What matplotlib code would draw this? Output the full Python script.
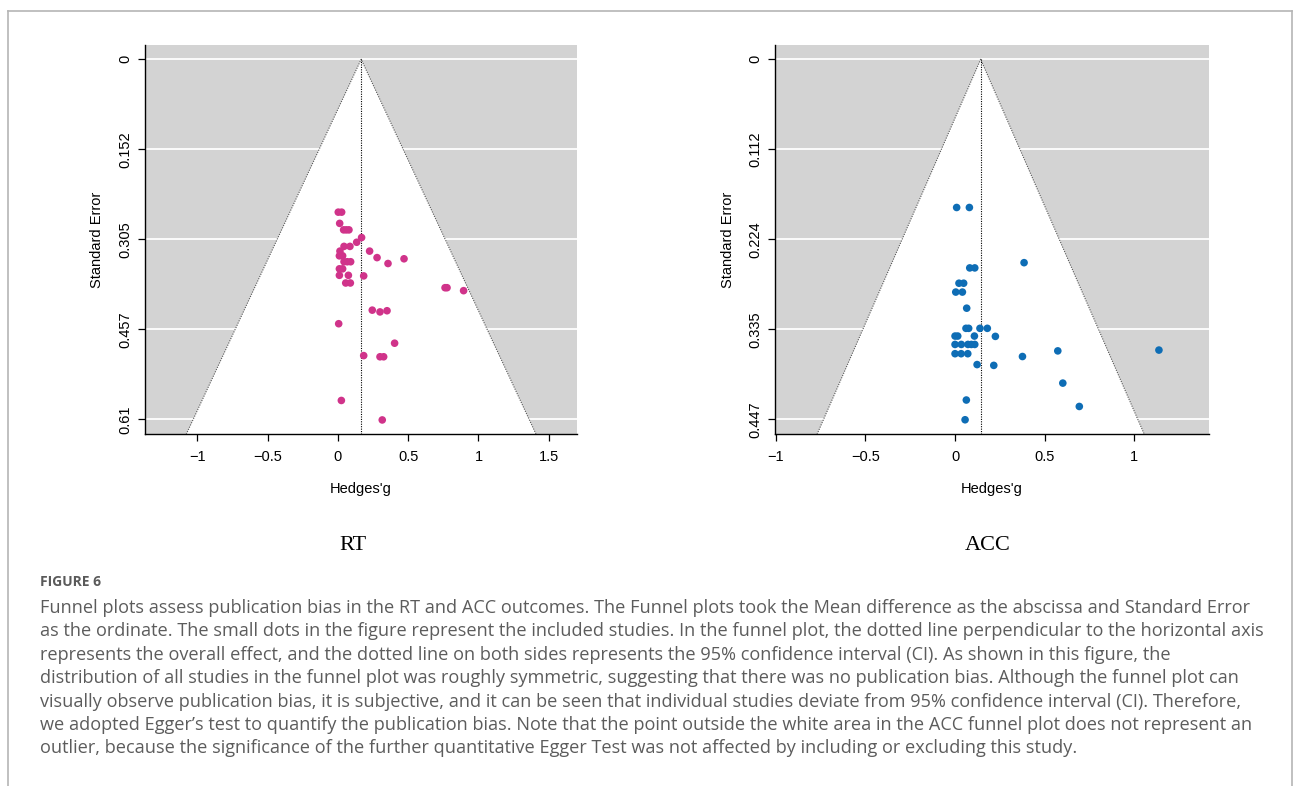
import matplotlib
matplotlib.use("Agg")
import matplotlib.pyplot as plt
from matplotlib.patches import Polygon
import numpy as np

# ---------------- data ----------------
rt_g = [0.002, 0.026, 0.012, 0.040, 0.059, 0.078, 0.168, 0.133, 0.043, 0.085,
        0.014, 0.225, 0.010, 0.033, 0.278, 0.470, 0.043, 0.066, 0.090, 0.356,
        0.010, 0.033, 0.010, 0.074, 0.183, 0.055, 0.088, 0.762, 0.776, 0.894,
        0.244, 0.299, 0.349, 0.005, 0.403, 0.183, 0.299, 0.325, 0.024, 0.315]
rt_se = [0.259, 0.259, 0.278, 0.289, 0.289, 0.289, 0.302, 0.310, 0.317, 0.317,
         0.325, 0.325, 0.333, 0.333, 0.336, 0.338, 0.343, 0.343, 0.343, 0.346,
         0.355, 0.355, 0.366, 0.366, 0.367, 0.379, 0.379, 0.387, 0.387, 0.392,
         0.425, 0.428, 0.426, 0.448, 0.481, 0.502, 0.504, 0.504, 0.578, 0.611]
rt_center = 0.165
rt_yticks = [0, 0.1525, 0.305, 0.4575, 0.61]
rt_yticklabels = ["0", "0.152", "0.305", "0.457", "0.61"]
rt_xticks = [-1, -0.5, 0, 0.5, 1, 1.5]
rt_xticklabels = ["\u22121", "\u22120.5", "0", "0.5", "1", "1.5"]
rt_xlim = (-1.375, 1.704)

acc_g = [0.009, 0.080, 0.385, 0.082, 0.110, 0.022, 0.048, 0.004, 0.041, 0.065,
         0.061, 0.076, 0.139, 0.180, 0.000, 0.015, 0.108, 0.225, 0.000, 0.035,
         0.072, 0.091, 0.110, 0.573, 0.000, 0.034, 0.071, 0.376, 0.123, 0.216,
         0.601, 0.063, 0.693, 0.056, 1.137]
acc_se = [0.184, 0.184, 0.2525, 0.259, 0.259, 0.278, 0.278, 0.289, 0.289, 0.309,
          0.334, 0.334, 0.334, 0.334, 0.3436, 0.3436, 0.3436, 0.344, 0.354, 0.354,
          0.354, 0.354, 0.354, 0.362, 0.3655, 0.3655, 0.3655, 0.369, 0.379, 0.380,
          0.402, 0.423, 0.431, 0.4475, 0.361]
acc_center = 0.143
acc_yticks = [0, 0.11175, 0.2235, 0.33525, 0.447]
acc_yticklabels = ["0", "0.112", "0.224", "0.335", "0.447"]
acc_xticks = [-1, -0.5, 0, 0.5, 1]
acc_xticklabels = ["\u22121", "\u22120.5", "0", "0.5", "1"]
acc_xlim = (-1.004, 1.414)

panel_titles = ["RT", "ACC"]
caption_title = "FIGURE 6"
caption_lines = [
    "Funnel plots assess publication bias in the RT and ACC outcomes. The Funnel plots took the Mean difference as the abscissa and Standard Error",
    "as the ordinate. The small dots in the figure represent the included studies. In the funnel plot, the dotted line perpendicular to the horizontal axis",
    "represents the overall effect, and the dotted line on both sides represents the 95% confidence interval (CI). As shown in this figure, the",
    "distribution of all studies in the funnel plot was roughly symmetric, suggesting that there was no publication bias. Although the funnel plot can",
    "visually observe publication bias, it is subjective, and it can be seen that individual studies deviate from 95% confidence interval (CI). Therefore,",
    "we adopted Egger\u2019s test to quantify the publication bias. Note that the point outside the white area in the ACC funnel plot does not represent an",
    "outlier, because the significance of the further quantitative Egger Test was not affected by including or excluding this study.",
]

W, H = 1293, 786
fig = plt.figure(figsize=(W / 100, H / 100), dpi=100)
fig.patch.set_facecolor("white")

def fx(px):
    return px / W

def fy(py):
    return 1 - py / H

tick_font = dict(family="Liberation Sans", size=10.5)


def funnel(ax, g, se, center, yticks, ylabels, xticks, xlabels, xlim, color):
    ymax = yticks[-1]
    ylo = -0.04 * ymax * 0.99
    yhi = ymax * 1.0415
    ax.set_xlim(*xlim)
    ax.set_ylim(yhi, ylo)
    ax.set_facecolor("#D3D3D3")
    for yt in yticks:
        ax.axhline(yt, color="white", lw=1.3, zorder=1)
    poly = Polygon([[center - 1.96 * yhi, yhi], [center, 0], [center + 1.96 * yhi, yhi]],
                   closed=True, facecolor="white", edgecolor="none", zorder=2)
    ax.add_patch(poly)
    ax.plot([center - 1.96 * yhi, center, center + 1.96 * yhi], [yhi, 0, yhi],
            ls=(0, (1, 1.2)), color="#555555", lw=0.8, zorder=3)
    ax.plot([center, center], [0, yhi], ls=(0, (1, 1.2)), color="black", lw=0.8, zorder=3)
    ax.scatter(g, se, s=30, color=color, edgecolors="none", zorder=4)
    for s in ["top", "right"]:
        ax.spines[s].set_visible(False)
    for s in ["left", "bottom"]:
        ax.spines[s].set_linewidth(1.0)
        ax.spines[s].set_color("black")
    ax.set_yticks(yticks)
    ax.set_yticklabels(ylabels, rotation=90, va="center", fontdict=tick_font)
    ax.set_xticks(xticks)
    ax.set_xticklabels(xlabels, fontdict=tick_font)
    ax.tick_params(axis="both", length=5, width=0.9, color="black", pad=6)
    ax.tick_params(axis="y", pad=4)
    ax.set_xlabel("Hedges'g", fontdict=dict(family="Liberation Sans", size=10.5), labelpad=13)
    ax.set_ylabel("Standard Error", fontdict=dict(family="Liberation Sans", size=10.5), labelpad=10)


ax1 = fig.add_axes([fx(144.8), fy(434.3), fx(577.4 - 144.8), (434.3 - 45) / H])
funnel(ax1, rt_g, rt_se, rt_center, rt_yticks, rt_yticklabels, rt_xticks, rt_xticklabels,
       rt_xlim, "#D0338A")

ax2 = fig.add_axes([fx(775), fy(434.3), fx(1208.6 - 775), (434.3 - 45) / H])
funnel(ax2, acc_g, acc_se, acc_center, acc_yticks, acc_yticklabels, acc_xticks, acc_xticklabels,
       acc_xlim, "#0E6DB5")

fig.text(fx(353), fy(545), panel_titles[0], family="Liberation Serif", size=16,
         ha="center", va="center", color="black")
fig.text(fx(988), fy(545), panel_titles[1], family="Liberation Serif", size=16,
         ha="center", va="center", color="black")

fig.text(fx(40), fy(582), caption_title, family="Open Sans", weight="bold", size=10,
         ha="left", va="center", color="#5a5a5a")

for i, line in enumerate(caption_lines):
    fig.text(fx(40), fy(608 + i * 23.4), line, family="Open Sans", size=13.05,
             ha="left", va="center", color="#5c5c5c")

# border
fig.add_artist(plt.Line2D([fx(8), fx(1292)], [fy(10.5), fy(10.5)], color="#B5B5B5", lw=1.2))
fig.add_artist(plt.Line2D([fx(8), fx(8)], [fy(10.5), 0], color="#B5B5B5", lw=1.2))
fig.add_artist(plt.Line2D([fx(1292), fx(1292)], [fy(10.5), 0], color="#B5B5B5", lw=1.2))

fig.savefig("out.png", dpi=100)
